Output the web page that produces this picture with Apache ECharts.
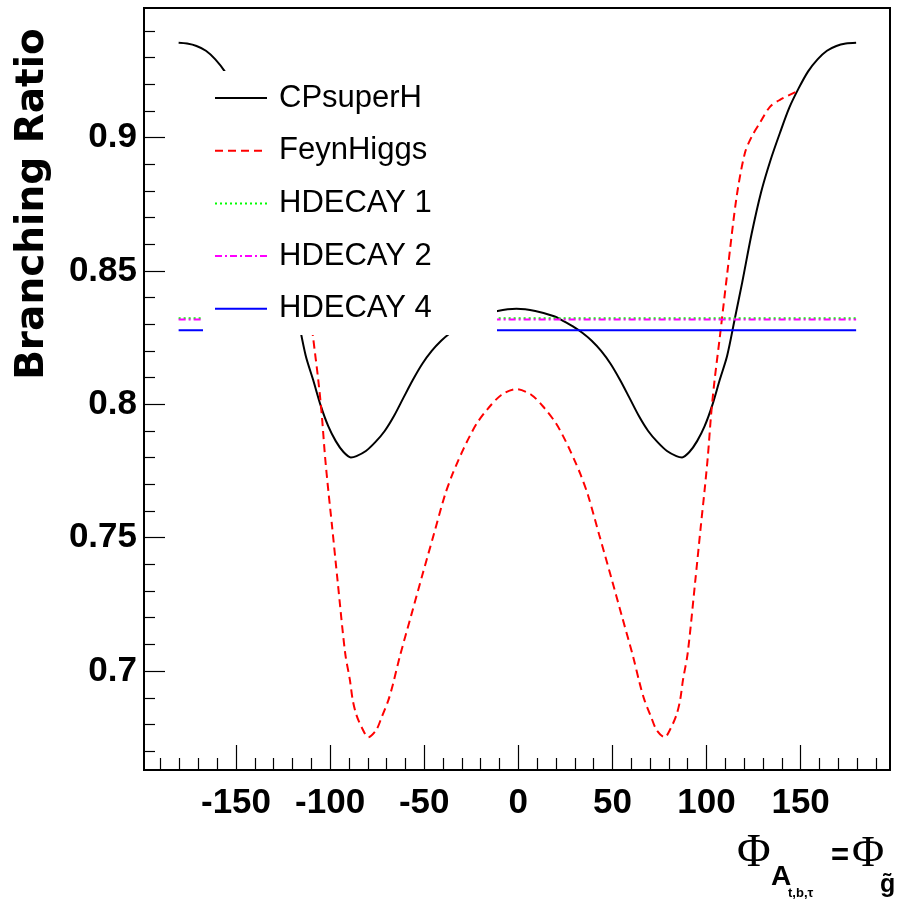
<!DOCTYPE html>
<html>
<head>
<meta charset="utf-8">
<script src="https://cdn.jsdelivr.net/npm/echarts@6/dist/echarts.min.js"></script>
<style>
html,body{margin:0;padding:0;background:#fff;}
#chart{width:904px;height:904px;}
</style>
</head>
<body>
<div id="chart"></div>
<script>
// ---- data ----
const cpX = [-180.5,-176,-171,-166,-161,-156,-151,-146,-141,-136,-131,-126,-121,-117,-113,-109,-105,-101,-97,-93,-89,-86,-81,-76,-71,-66,-61,-56,-51,-46,-41,-36,-31,-26,-21,-11,-1,
  9,19,24,29,34,39,44,49,54,59,64,69,74,79,84,87,91,95,99,103,107,111,115,119,124,129,134,139,144,149,154,159,164,169,174,179.5];
const cpY = [0.9355,0.9352,0.9343,0.9325,0.9293,0.9248,0.9185,0.9112,0.9017,0.8915,0.8795,0.8640,0.8458,0.8320,0.8183,0.8091,0.7995,0.7918,0.7862,0.7822,0.7801,0.7806,0.7825,0.7858,0.7900,0.7957,0.8025,0.8092,0.8152,0.8200,0.8238,0.8268,0.8292,0.8312,0.8330,0.8350,0.8358,
  0.8350,0.8330,0.8312,0.8292,0.8268,0.8238,0.8200,0.8152,0.8092,0.8025,0.7957,0.7900,0.7858,0.7825,0.7806,0.7801,0.7822,0.7862,0.7918,0.7995,0.8091,0.8183,0.8320,0.8458,0.8640,0.8795,0.8915,0.9017,0.9112,0.9185,0.9248,0.9293,0.9325,0.9343,0.9352,0.9355];

const fhX = [-149.9,-141,-135.7,-130.3,-126,-122.4,-118,-113,-109,-106.3,-104.5,-102.7,-101,-99,-96,-92,-89.5,-88,-86,-83,-79.7,-75.5,-72.5,-69,-66.5,-63,-57,-51,-45,-39,-35,-32,-29,-26,-22,-16,-9,-1,
  7,14,20,24,27,30,33,37,43,49,55,61,64.5,67,70.5,73.5,77.7,81,84,86,87.5,90,94,97,99,100.7,102.5,104.3,107,111,116,120.4,124,128.3,133.7,139,147.9];
const fhY = [0.9172,0.9141,0.9115,0.9054,0.9003,0.8942,0.8778,0.8490,0.8248,0.8091,0.7966,0.7804,0.7679,0.7545,0.7336,0.7067,0.6967,0.6892,0.6835,0.6786,0.6752,0.6779,0.6829,0.6892,0.6954,0.7054,0.7207,0.7360,0.7510,0.7660,0.7738,0.7788,0.7835,0.7878,0.7929,0.7985,0.8035,0.8057,
  0.8035,0.7985,0.7929,0.7878,0.7835,0.7788,0.7738,0.7660,0.7510,0.7360,0.7207,0.7054,0.6954,0.6892,0.6829,0.6779,0.6752,0.6786,0.6835,0.6892,0.6967,0.7067,0.7336,0.7545,0.7679,0.7804,0.7966,0.8091,0.8248,0.8490,0.8778,0.8942,0.9003,0.9054,0.9115,0.9141,0.9172];

const hdX = [-180.5, -90, 0, 90, 179.5];
const hd1Y = [0.8323, 0.8323, 0.8323, 0.8323, 0.8323];
const hd2Y = [0.8318, 0.8318, 0.8318, 0.8318, 0.8318];
const hd4Y = [0.8278, 0.8278, 0.8278, 0.8278, 0.8278];

const seriesNames = ['CPsuperH', 'FeynHiggs', 'HDECAY 1', 'HDECAY 2', 'HDECAY 4'];

const xMajorTicks = [-150, -100, -50, 0, 50, 100, 150];
const xMinorTicks = [-190,-180,-170,-160,-140,-130,-120,-110,-90,-80,-70,-60,-40,-30,-20,-10,10,20,30,40,60,70,80,90,110,120,130,140,160,170,180,190];
const yMajorTicks = [0.7, 0.75, 0.8, 0.85, 0.9];
const yMinorTicks = [0.67,0.68,0.69,0.71,0.72,0.73,0.74,0.76,0.77,0.78,0.79,0.81,0.82,0.83,0.84,0.86,0.87,0.88,0.89,0.91,0.92,0.93,0.94];

// ---- chart ----
const zip = (xs, ys) => xs.map((x, i) => [x, ys[i]]);
const SANS = '"Liberation Sans", Arial, sans-serif';
const XMIN = -198.9, XMAX = 197.5, YMIN = 0.66293, YMAX = 0.94854;

const chart = echarts.init(document.getElementById('chart'), null, {renderer: 'canvas'});

function xAxisBase(extra) {
  return Object.assign({
    type: 'value', min: XMIN, max: XMAX, position: 'bottom', gridIndex: 0,
    axisLine: {show: false, onZero: false}, splitLine: {show: false}
  }, extra);
}
function yAxisBase(extra) {
  return Object.assign({
    type: 'value', min: YMIN, max: YMAX, position: 'left', gridIndex: 0,
    axisLine: {show: false, onZero: false}, splitLine: {show: false}
  }, extra);
}

const option = {
  animation: false,
  backgroundColor: '#fff',
  grid: {left: 144, right: 14, top: 8, bottom: 134, show: true, borderColor: '#000', borderWidth: 2, backgroundColor: 'transparent'},
  xAxis: [
    xAxisBase({
      axisTick: {show: true, inside: true, length: 25, customValues: xMajorTicks, lineStyle: {color: '#000', width: 1.2}},
      axisLabel: {show: true, customValues: xMajorTicks, margin: 16, color: '#000', fontFamily: SANS, fontWeight: 'bold', fontSize: 35}
    }),
    xAxisBase({
      axisTick: {show: true, inside: true, length: 12, customValues: xMinorTicks, lineStyle: {color: '#000', width: 1.2}},
      axisLabel: {show: false}
    })
  ],
  yAxis: [
    yAxisBase({
      axisTick: {show: true, inside: true, length: 21, customValues: yMajorTicks, lineStyle: {color: '#000', width: 1.2}},
      axisLabel: {show: true, customValues: yMajorTicks, margin: 7, color: '#000', fontFamily: SANS, fontWeight: 'bold', fontSize: 35, padding: [0, 0, 8, 0]}
    }),
    yAxisBase({
      axisTick: {show: true, inside: true, length: 11, customValues: yMinorTicks, lineStyle: {color: '#000', width: 1.2}},
      axisLabel: {show: false}
    })
  ],
  legend: {
    orient: 'vertical', left: 214, top: 78, padding: 0, z: 10,
    itemWidth: 52, itemHeight: 2, itemGap: 12.7,
    selectedMode: false,
    itemStyle: {opacity: 0},
    data: seriesNames,
    textStyle: {fontFamily: SANS, fontSize: 31, lineHeight: 40, color: '#000', padding: [0, 0, 0, 7]}
  },
  graphic: [
    {type: 'rect', z: 5, shape: {x: 203, y: 71, width: 294, height: 264}, style: {fill: '#fff'}, silent: true},
    {type: 'text', x: 33, y: 204, rotation: Math.PI / 2, z: 10,
      style: {text: 'Branching Ratio', fontFamily: '"DejaVu Sans", sans-serif', fontWeight: 'bold', fontSize: 39, fill: '#000', align: 'center', verticalAlign: 'middle'}},
    {type: 'text', x: 737, y: 854, z: 10, style: {text: 'Φ', fontFamily: '"Liberation Serif", serif', fontSize: 46, fill: '#000', align: 'left', verticalAlign: 'middle'}},
    {type: 'text', x: 771, y: 877, z: 10, style: {text: 'A', fontFamily: SANS, fontWeight: 'bold', fontSize: 28, fill: '#000', align: 'left', verticalAlign: 'middle'}},
    {type: 'text', x: 788, y: 893, z: 10, style: {text: 't,b,τ', fontFamily: SANS, fontWeight: 'bold', fontSize: 13, fill: '#000', align: 'left', verticalAlign: 'middle'}},
    {type: 'text', x: 831, y: 856, z: 10, style: {text: '=', fontFamily: SANS, fontWeight: 'bold', fontSize: 31, fill: '#000', align: 'left', verticalAlign: 'middle'}},
    {type: 'text', x: 852, y: 854, z: 10, style: {text: 'Φ', fontFamily: '"Liberation Serif", serif', fontSize: 44, fill: '#000', align: 'left', verticalAlign: 'middle'}},
    {type: 'text', x: 880, y: 885, z: 10, style: {text: 'g̃', fontFamily: SANS, fontWeight: 'bold', fontSize: 25, fill: '#000', align: 'left', verticalAlign: 'middle'}}
  ],
  series: [
    {name: seriesNames[0], type: 'line', data: zip(cpX, cpY), symbol: 'none', smooth: 0.3, z: 2,
      lineStyle: {color: '#000', width: 2, type: 'solid'}, itemStyle: {color: '#000'}},
    {name: seriesNames[1], type: 'line', data: zip(fhX, fhY), symbol: 'none', smooth: 0.3, z: 2,
      lineStyle: {color: '#ff0000', width: 2, type: [8, 5]}, itemStyle: {color: '#ff0000'}},
    {name: seriesNames[2], type: 'line', data: zip(hdX, hd1Y), symbol: 'none', z: 2,
      lineStyle: {color: '#00ff00', width: 2, type: [2, 3]}, itemStyle: {color: '#00ff00'}},
    {name: seriesNames[3], type: 'line', data: zip(hdX, hd2Y), symbol: 'none', z: 2,
      lineStyle: {color: '#ff00ff', width: 2, type: [7, 3, 2, 3]}, itemStyle: {color: '#ff00ff'}},
    {name: seriesNames[4], type: 'line', data: zip(hdX, hd4Y), symbol: 'none', z: 2,
      lineStyle: {color: '#0000ff', width: 2, type: 'solid'}, itemStyle: {color: '#0000ff'}}
  ]
};
chart.setOption(option);
</script>
</body>
</html>
